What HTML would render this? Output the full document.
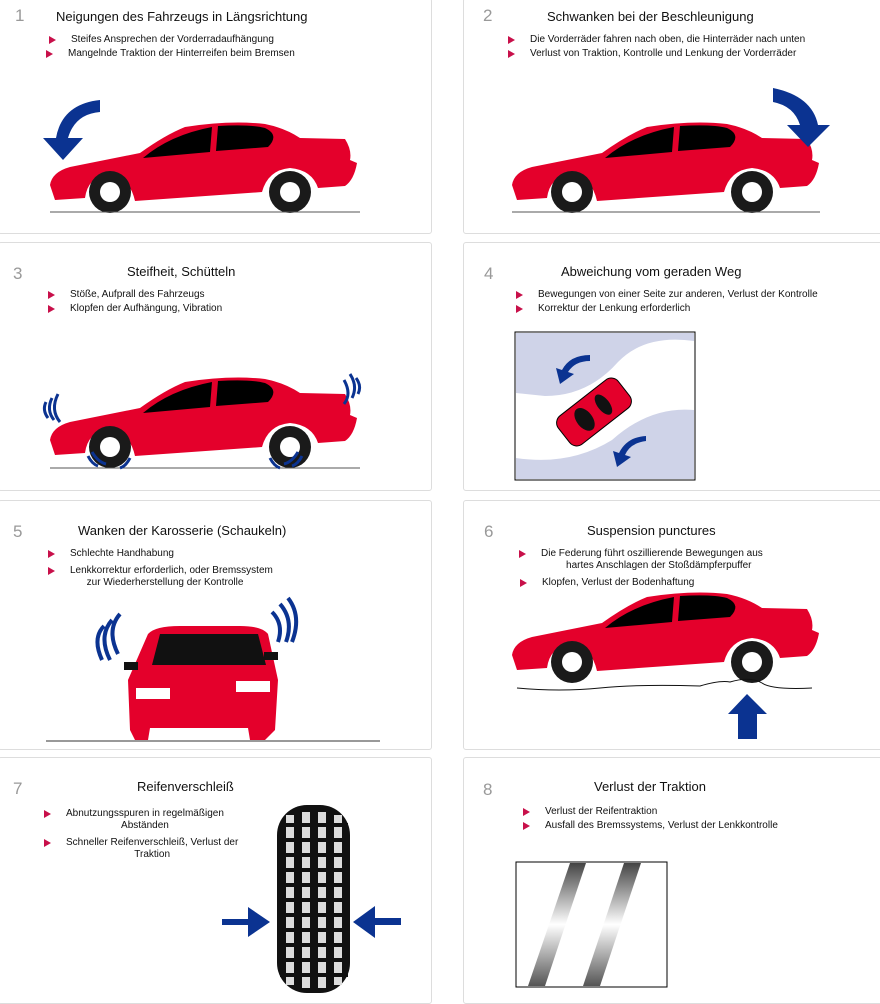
<!DOCTYPE html>
<html><head><meta charset="utf-8"><style>
body{margin:0;width:880px;height:999px;background:#fff;position:relative;overflow:hidden;font-family:"Liberation Sans",sans-serif;color:#111}
.p{position:absolute;border:1px solid #ddd;border-radius:3px;background:#fff}
.n{position:absolute;font-size:17px;color:#999}
.t{position:absolute;font-size:13px;white-space:nowrap}
.b{position:absolute;font-size:10px;white-space:nowrap;line-height:12px}
.b:before{content:"";position:absolute;left:-22px;top:2px;border-left:7px solid #c8104a;border-top:4px solid transparent;border-bottom:4px solid transparent}
svg{position:absolute;left:0;top:0}
</style></head><body>
<div class="p" style="left:-2px;top:-2px;width:432px;height:234px"></div>
<div class="p" style="left:463px;top:-2px;width:420px;height:234px"></div>
<div class="p" style="left:-2px;top:242px;width:432px;height:247px"></div>
<div class="p" style="left:463px;top:242px;width:420px;height:247px"></div>
<div class="p" style="left:-2px;top:500px;width:432px;height:248px"></div>
<div class="p" style="left:463px;top:500px;width:420px;height:248px"></div>
<div class="p" style="left:-2px;top:757px;width:432px;height:245px"></div>
<div class="p" style="left:463px;top:757px;width:420px;height:245px"></div>

<svg width="880" height="999" viewBox="0 0 880 999">
<defs>
<g id="car">
<path d="M55,200 L50,185 Q52,172 70,167 L140,153 Q165,135 185,127 Q230,120 265,124 Q285,128 300,138 L345,139 Q352,150 350,160 L357,163 Q354,180 345,186 L318,188 Q312,170 290,168 Q268,170 262,192 L135,201 Q130,178 110,174 Q88,176 85,198 Z" fill="#e4002b"/>
<path d="M143,158 Q170,135 212,127 L210,152 Z" fill="#000"/>
<path d="M218,126 Q250,124 265,128 Q280,135 268,147 L216,151 Z" fill="#000"/>
<circle cx="110" cy="192" r="21" fill="#1a1a1a"/><circle cx="110" cy="192" r="10" fill="#fff"/>
<circle cx="290" cy="192" r="21" fill="#1a1a1a"/><circle cx="290" cy="192" r="10" fill="#fff"/>
</g>
<linearGradient id="tr" x1="0" y1="0" x2="0" y2="1"><stop offset="0" stop-color="#444"/><stop offset=".5" stop-color="#fff"/><stop offset="1" stop-color="#555"/></linearGradient>
</defs>
<!-- panel1 -->
<use href="#car"/>
<line x1="50" y1="212" x2="360" y2="212" stroke="#555"/>
<path d="M100,100 L100,112 Q75,114 68,138 L83,138 L63,160 L43,138 L56,138 Q62,104 100,100Z" fill="#0b3391"/>
<!-- panel2 -->
<use href="#car" transform="translate(462,0)"/>
<line x1="512" y1="212" x2="820" y2="212" stroke="#555"/>
<path d="M773,88 Q812,96 818,125 L830,125 L808,147 L787,125 L800,125 Q794,106 773,102Z" fill="#0b3391"/>
<!-- panel3 -->
<use href="#car" transform="translate(0,255)"/>
<line x1="50" y1="468" x2="360" y2="468" stroke="#555"/>
<g fill="none" stroke="#0b3391" stroke-width="3">
<path d="M46,402 q-4,8 2,16 M52,398 q-6,12 2,22 M58,394 q-8,16 2,28"/>
<path d="M356,378 q6,8 2,16 M350,374 q8,12 2,24 M344,380 q8,14 0,24"/>
<path d="M88,456 q4,8 10,10 M92,452 q6,10 14,12 M302,456 q-4,8 -10,10 M298,452 q-6,10 -14,12 M270,458 q4,8 10,10 M130,458 q-4,8 -10,10"/>
</g>
<!-- panel4 -->
<rect x="515" y="332" width="180" height="148" fill="#fff" stroke="#000"/>
<path d="M516,333 L694,333 L694,341 Q645,334 618,362 Q588,396 545,396 L516,393Z" fill="#cfd3e8"/>
<path d="M516,458 Q570,466 612,440 Q650,406 694,410 L694,479 L516,479Z" fill="#cfd3e8"/>
<g transform="rotate(-38 594 412)"><rect x="556" y="394" width="76" height="36" rx="9" fill="#e4002b" stroke="#000"/><ellipse cx="582" cy="412" rx="8" ry="13" fill="#111"/><ellipse cx="606" cy="412" rx="6" ry="12" fill="#111"/></g>
<path d="M590,361 Q575,361 568,372 L574,374 L560,384 L556,368 L562,370 Q570,355 590,355Z" fill="#0b3391"/>
<path d="M646,441 Q630,443 625,455 L631,457 L617,467 L613,451 L619,453 Q627,437 646,436Z" fill="#0b3391"/>
<!-- panel5 -->
<line x1="46" y1="741" x2="380" y2="741" stroke="#333"/>
<path d="M148,634 Q155,626 180,626 L240,626 Q262,626 268,634 L278,680 L275,730 L265,740 L250,740 L248,728 L150,728 L148,740 L135,740 L130,730 L128,680Z" fill="#e4002b"/>
<path d="M152,665 L160,634 L258,634 L266,665Z" fill="#111"/>
<rect x="124" y="662" width="14" height="8" fill="#111"/><rect x="264" y="652" width="14" height="8" fill="#111"/>
<rect x="136" y="688" width="34" height="11" fill="#fff"/><rect x="236" y="681" width="34" height="11" fill="#fff"/>
<g fill="none" stroke="#0b3391" stroke-width="4">
<path d="M104,626 q-12,12 -2,34 M112,620 q-14,16 -2,40 M120,614 q-14,16 -2,40"/>
<path d="M272,612 q12,12 6,30 M280,604 q14,16 6,38 M288,598 q14,18 4,44"/>
</g>
<!-- panel6 -->
<use href="#car" transform="translate(462,470)"/>
<path d="M517,688 Q560,692 600,688 T700,686 Q720,680 730,682 Q750,676 762,683 Q772,690 812,688" fill="none" stroke="#111"/>
<path d="M747,694 L767,714 L757,714 L757,739 L738,739 L738,714 L728,714Z" fill="#0b3391"/>
<!-- panel7 tire -->
<rect x="277" y="805" width="73" height="188" rx="30" fill="#111"/>
<g fill="#ddd">
<rect x="286" y="815" width="8" height="170"/><rect x="302" y="812" width="8" height="176"/><rect x="318" y="812" width="8" height="176"/><rect x="334" y="815" width="8" height="170"/>
</g>
<g stroke="#111" stroke-width="4">
<path d="M280,825 H348 M280,840 H348 M280,855 H348 M280,870 H348 M280,885 H348 M280,900 H348 M280,915 H348 M280,930 H348 M280,945 H348 M280,960 H348 M280,975 H348"/>
</g>
<path d="M222,922 L248,922 L248,910 L270,925 L248,940 L248,928 L222,928Z" fill="#0b3391" transform="translate(0,-3)"/>
<path d="M401,918 L375,918 L375,906 L353,922 L375,938 L375,925 L401,925Z" fill="#0b3391"/>
<!-- panel8 -->
<rect x="516" y="862" width="151" height="125" fill="#fff" stroke="#000"/>
<path d="M570,863 L586,863 L545,986 L528,986Z" fill="url(#tr)"/>
<path d="M624,863 L641,863 L600,986 L583,986Z" fill="url(#tr)"/>
</svg>

<div class="n" style="left:15px;top:6px">1</div>
<div class="t" style="left:56px;top:9px">Neigungen des Fahrzeugs in Längsrichtung</div>
<div class="b" style="left:71px;top:34px">Steifes Ansprechen der Vorderradaufhängung</div>
<div class="b" style="left:68px;top:48px">Mangelnde Traktion der Hinterreifen beim Bremsen</div>

<div class="n" style="left:483px;top:6px">2</div>
<div class="t" style="left:547px;top:9px">Schwanken bei der Beschleunigung</div>
<div class="b" style="left:530px;top:34px">Die Vorderräder fahren nach oben, die Hinterräder nach unten</div>
<div class="b" style="left:530px;top:48px">Verlust von Traktion, Kontrolle und Lenkung der Vorderräder</div>

<div class="n" style="left:13px;top:264px">3</div>
<div class="t" style="left:127px;top:264px">Steifheit, Schütteln</div>
<div class="b" style="left:70px;top:289px">Stöße, Aufprall des Fahrzeugs</div>
<div class="b" style="left:70px;top:303px">Klopfen der Aufhängung, Vibration</div>

<div class="n" style="left:484px;top:264px">4</div>
<div class="t" style="left:561px;top:264px">Abweichung vom geraden Weg</div>
<div class="b" style="left:538px;top:289px">Bewegungen von einer Seite zur anderen, Verlust der Kontrolle</div>
<div class="b" style="left:538px;top:303px">Korrektur der Lenkung erforderlich</div>

<div class="n" style="left:13px;top:522px">5</div>
<div class="t" style="left:78px;top:523px">Wanken der Karosserie (Schaukeln)</div>
<div class="b" style="left:70px;top:548px">Schlechte Handhabung</div>
<div class="b" style="left:70px;top:565px">Lenkkorrektur erforderlich, oder Bremssystem<br>&nbsp;&nbsp;&nbsp;&nbsp;&nbsp;&nbsp;zur Wiederherstellung der Kontrolle</div>

<div class="n" style="left:484px;top:522px">6</div>
<div class="t" style="left:587px;top:523px">Suspension punctures</div>
<div class="b" style="left:541px;top:548px">Die Federung führt oszillierende Bewegungen aus<br>&nbsp;&nbsp;&nbsp;&nbsp;&nbsp;&nbsp;&nbsp;&nbsp;&nbsp;hartes Anschlagen der Stoßdämpferpuffer</div>
<div class="b" style="left:542px;top:577px">Klopfen, Verlust der Bodenhaftung</div>

<div class="n" style="left:13px;top:779px">7</div>
<div class="t" style="left:137px;top:779px">Reifenverschleiß</div>
<div class="b" style="left:66px;top:808px;text-align:center">Abnutzungsspuren in regelmäßigen<br>Abständen</div>
<div class="b" style="left:66px;top:837px;text-align:center">Schneller Reifenverschleiß, Verlust der<br>Traktion</div>

<div class="n" style="left:483px;top:780px">8</div>
<div class="t" style="left:594px;top:779px">Verlust der Traktion</div>
<div class="b" style="left:545px;top:806px">Verlust der Reifentraktion</div>
<div class="b" style="left:545px;top:820px">Ausfall des Bremssystems, Verlust der Lenkkontrolle</div>
</body></html>
